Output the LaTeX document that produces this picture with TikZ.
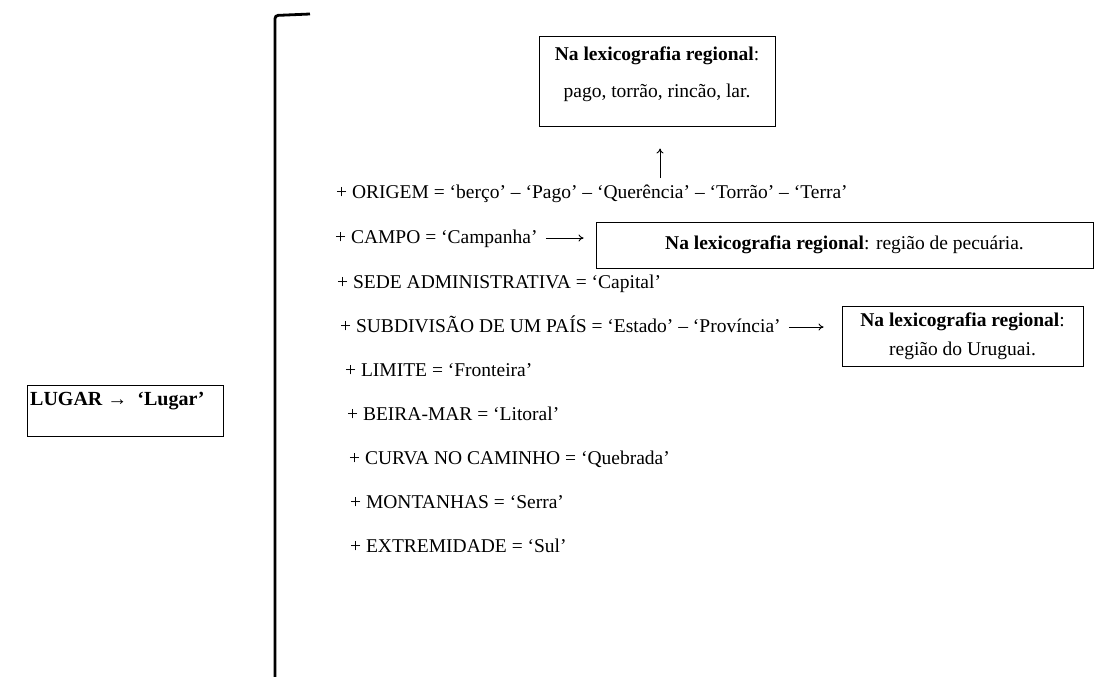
\documentclass[tikz,border=0pt]{standalone}
\usepackage{fontspec}
\setmainfont{Liberation Serif}
\usetikzlibrary{arrows.meta}
\begin{document}
\begin{tikzpicture}[x=1pt,y=-1pt,
  every node/.style={font=\fontsize{19.5}{23}\selectfont, inner sep=0pt},
  item/.style={anchor=west, text height=14pt, text depth=4pt},
  frame/.style={draw, line width=1pt, inner sep=0pt},
  link/.style={-{To[length=5pt,width=7pt]}, line width=0.9pt},
  brace/.style={line width=2.8pt, rounded corners=3pt}
  ]
\useasboundingbox (0,0) rectangle (1100,677);

% the large bracket gathering the senses
\draw[brace] (310,14) -- (275,15.5) -- (275,680);

% head entry
\node[frame, minimum width=196, minimum height=51, anchor=north west] (lugarbox) at (27,385) {};
\node[anchor=west, font=\fontsize{20}{24}\selectfont\bfseries] (lugar) at (30,401) {LUGAR →\ \ ‘Lugar’};

% senses
\node[item] (origem) at (336,193) {+ ORIGEM = ‘berço’ – ‘Pago’ – ‘Querência’ – ‘Torrão’ – ‘Terra’};
\node[item] (campo) at (335,238) {+ CAMPO = ‘Campanha’};
\node[item] (sede) at (337,283) {+ SEDE ADMINISTRATIVA = ‘Capital’};
\node[item] (subdiv) at (340,327) {+ SUBDIVISÃO DE UM PAÍS = ‘Estado’ – ‘Província’};
\node[item] (limite) at (345,371) {+ LIMITE = ‘Fronteira’};
\node[item] (beira) at (347,415) {+ BEIRA-MAR = ‘Litoral’};
\node[item] (curva) at (349,459) {+ CURVA NO CAMINHO = ‘Quebrada’};
\node[item] (montanhas) at (350,503) {+ MONTANHAS = ‘Serra’};
\node[item] (extremidade) at (350,547) {+ EXTREMIDADE = ‘Sul’};

% regional lexicography notes
\node[frame, minimum width=236, minimum height=89] (origembox) at (657,81.5) {};
\node (origemnote) at (657,56) {\textbf{Na lexicografia regional}:};
\node (origemwords) at (657,93) {pago, torrão, rincão, lar.};

\node[frame, minimum width=497, minimum height=46] (campobox) at (844.5,245) {};
\node (campnote) at (844.5,245) {\textbf{Na lexicografia regional}: região de pecuária.};

\node[frame, minimum width=241, minimum height=60] (subdivbox) at (962.5,336) {};
\node (subdivnote) at (962.5,322) {\textbf{Na lexicografia regional}:};
\node (subdivwords) at (962.5,351) {região do Uruguai.};

% arrows
\coordinate (upfoot) at (660,178);
\draw[link, shorten >=22pt] (upfoot) -- (origembox.south -| upfoot);
\draw[link, shorten <=8pt, shorten >=12pt] (campo.east) -- (campobox.west |- campo.east);
\draw[link, shorten <=8pt, shorten >=18pt] (subdiv.east) -- (subdivbox.west |- subdiv.east);
\end{tikzpicture}
\end{document}
